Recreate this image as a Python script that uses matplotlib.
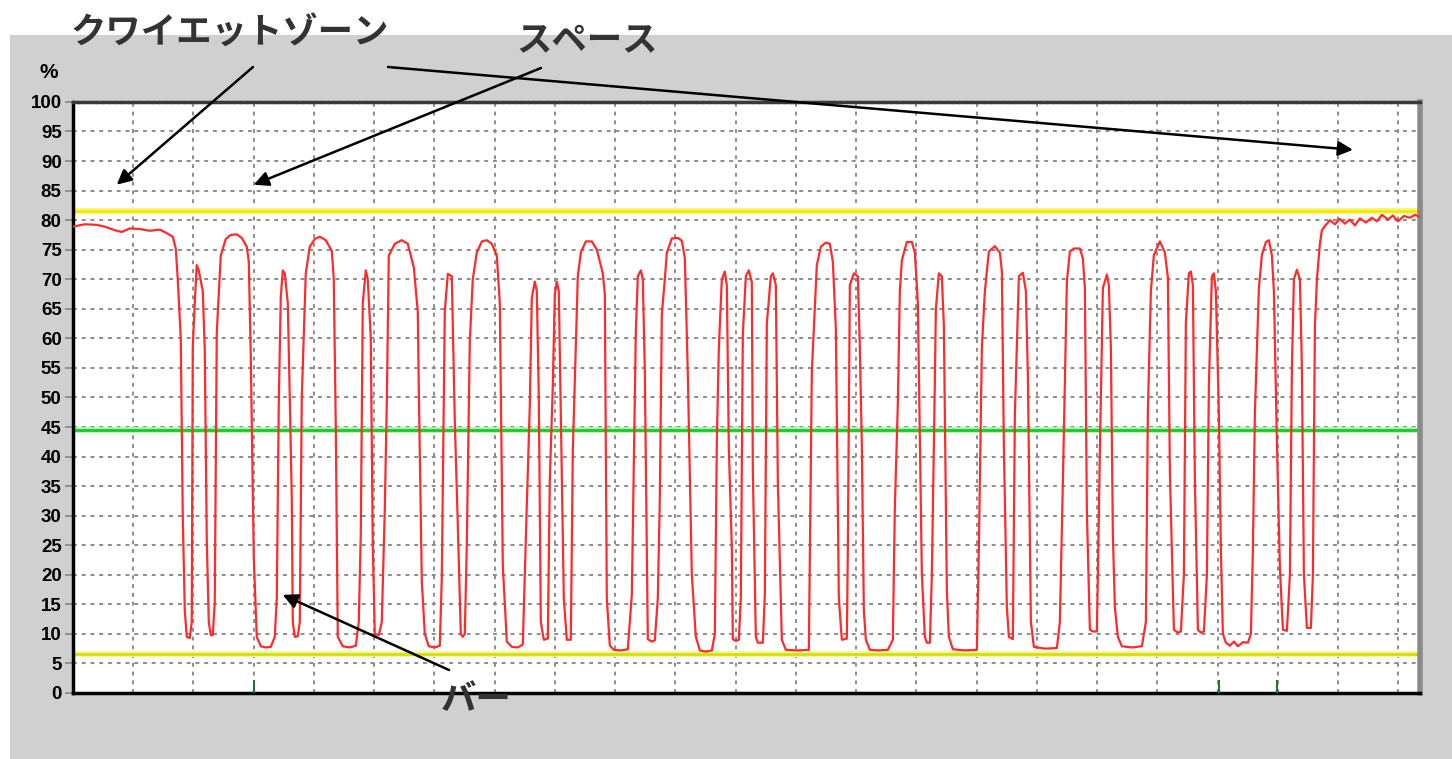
import numpy as np
import matplotlib
matplotlib.use('Agg')
from matplotlib import pyplot as plt
from matplotlib.patches import Rectangle

# scan position (samples) and reflectance (%)
scan_pos = [
    0, 12, 24, 32, 42, 49, 57, 67, 77, 87, 94, 100, 103, 105,
    108, 110, 112, 114, 117, 119, 120, 122, 124, 126,
    130, 132, 134, 136, 138, 140, 142, 144, 148, 153, 158, 164, 169, 174, 176,
    178, 181, 184, 188, 193, 198, 202, 204, 206, 208, 210, 212,
    215, 217, 219, 220, 222, 225, 227, 229, 233, 237, 242, 247, 253, 259,
    261, 263, 265, 270, 277, 283, 286, 288, 290, 293, 295,
    298, 300, 302, 306, 309, 312, 314, 316, 322, 329, 335, 341,
    345, 346, 349, 352, 356, 362, 367, 369, 372, 375, 379,
    382, 385, 388, 390, 392, 394, 397, 400, 404, 409, 414, 419, 424, 427,
    430, 434, 439, 445, 450, 454, 457, 459, 462, 464,
    466, 468, 471, 475, 477, 480, 482, 484, 486,
    488, 491, 494, 498, 500, 505, 508, 513, 519, 524, 530, 532,
    534, 537, 541, 548, 555, 559, 563, 565, 568, 570,
    572, 575, 579, 582, 585, 587, 589, 592, 594, 599, 605, 609, 612, 615,
    619, 623, 627, 633, 639, 642, 644, 646, 649, 652, 654,
    656, 659, 660, 663, 666, 668, 670, 673, 676, 679, 680,
    683, 685, 690, 692, 694, 698, 700, 703,
    705, 709, 713, 725, 736, 739, 744, 748, 753, 757, 760,
    763, 766, 769, 774, 775, 777, 781, 785, 787,
    789, 791, 793, 797, 805, 815, 820, 822, 825, 827, 829, 834, 839, 842,
    845, 849, 852, 854, 857, 859, 862, 863, 866, 869,
    871, 874, 876, 880, 892, 904, 906, 909, 912, 916, 922, 927, 929,
    931, 934, 936, 940, 942, 946, 950, 953,
    955, 958, 961, 972, 984, 987, 990, 994, 997, 1001, 1007, 1010, 1012,
    1014, 1017, 1020, 1024, 1025, 1027, 1030, 1034, 1036,
    1038, 1040, 1042, 1045, 1049, 1059, 1069, 1073, 1075, 1078, 1081, 1087, 1092, 1095,
    1097, 1101, 1105, 1108, 1111, 1113, 1116, 1118, 1120,
    1122, 1125, 1128, 1131, 1134, 1136, 1139, 1141, 1143,
    1146, 1148, 1150, 1153, 1157, 1161, 1165, 1170, 1175, 1178,
    1180, 1182, 1186, 1189, 1193, 1196, 1199, 1201,
    1204, 1207, 1210, 1214, 1217, 1219, 1221, 1224, 1227,
    1229, 1231, 1234, 1238, 1240, 1242, 1244, 1247, 1249,
    1253, 1257, 1262, 1267, 1272, 1277, 1282, 1287, 1293, 1299, 1304, 1309,
    1315, 1320, 1325, 1331, 1337, 1342, 1346,
]
reflectance = [
    78.9, 79.3, 79.2, 78.9, 78.3, 78.0, 78.6, 78.5, 78.2, 78.4, 77.8, 77.2, 75.2, 70.0,
    60, 30, 14, 9.5, 9.3, 12, 58.5, 66, 72.4, 71.5,
    68, 58, 26, 12, 9.8, 9.8, 15.4, 61, 74, 76.8, 77.5, 77.6, 77, 75.5, 73,
    57, 23, 9.5, 7.9, 7.7, 7.8, 9.5, 16, 49, 67, 71.5, 71,
    66, 50, 33, 12, 9.5, 9.6, 12, 50, 71, 75.5, 76.8, 77.2, 76.6, 74.8,
    70, 45, 9.5, 7.9, 7.7, 8, 12, 27, 66, 71.5, 70,
    60, 25, 10, 9.8, 12, 31, 49, 74, 76, 76.6, 76, 72,
    64.5, 51.6, 19, 10, 7.9, 7.7, 8, 19.5, 64.5, 70.9, 70.5,
    46, 28.4, 10, 9.5, 10, 25, 59.5, 70, 74.5, 76.4, 76.6, 76, 74, 66,
    21.6, 8.7, 7.8, 7.7, 8.2, 31.8, 48.7, 66.8, 69.6, 68,
    50, 12, 9, 9.2, 36, 52, 67.4, 69.6, 68,
    47, 16, 9, 9, 41, 70.5, 74.5, 76.4, 76.4, 75, 71, 67.5,
    16, 8, 7.3, 7.2, 7.4, 16.6, 61, 70.5, 71.5, 70,
    54.4, 9.1, 8.7, 8.9, 16, 33, 64, 70, 74.5, 76.9, 77, 76.5, 73.6, 54,
    20, 9.5, 7.2, 7.0, 7.2, 10, 42.5, 58.3, 70, 71.3, 69,
    41.4, 24.5, 9.1, 8.8, 9, 16, 60.6, 70.5, 71.5, 69.5, 37.7,
    9.5, 8.5, 8.5, 16.6, 62.5, 70.5, 71, 69,
    35.7, 9, 7.3, 7.2, 7.3, 54.4, 72.4, 75.5, 76.2, 76, 73,
    61.7, 16, 9, 9.2, 24.5, 69, 71, 70.5, 58.4,
    41.8, 14, 9, 7.3, 7.2, 7.3, 9, 31.4, 49, 68, 73.2, 76.3, 76.3, 74.5,
    66, 20.1, 9.5, 8.5, 8.5, 20, 52.7, 64.9, 71, 70.5,
    62.2, 17.2, 9.5, 7.4, 7.2, 7.3, 24.5, 58.4, 67.9, 74.7, 75.6, 74.5, 71.4,
    41.8, 14.5, 9.5, 9.1, 47.1, 70.5, 71.1, 68,
    53.9, 12.1, 7.8, 7.5, 7.6, 12, 35.7, 69.6, 74.7, 75.2, 75.2, 73.5, 68.5,
    30.7, 10.7, 10.4, 10.4, 20, 40.8, 68.5, 70.8, 69,
    58.4, 26.7, 14.5, 9.5, 7.9, 7.7, 7.9, 12, 47.6, 68, 74.1, 76.4, 74.5, 70.3,
    37.4, 10.7, 10.2, 10.4, 20, 62.7, 71, 71.3, 69,
    36, 10.7, 10.2, 10.4, 20, 52.2, 70.5, 71, 68,
    47, 24, 10, 8.5, 8.0, 8.7, 7.9, 8.6, 8.5, 10,
    24.2, 47.4, 68.5, 74.1, 76.3, 76.6, 74, 68,
    42.5, 21.2, 10.7, 10.5, 20, 55, 70, 71.6, 70,
    55, 20, 11, 11, 20, 62, 70, 76, 78.3,
    79.2, 80, 79.3, 80.2, 79.4, 80.1, 79.1, 80.3, 79.6, 80.4, 79.8, 80.9,
    80.1, 80.8, 79.8, 80.7, 80.4, 80.9, 80.6,
]

upper_limit = 81.5    # yellow
threshold = 44.5      # green
lower_limit = 6.6     # yellow
event_marks = [181, 1146, 1204]

scan_len = 1347
div = 60.25

fig = plt.figure(figsize=(14.52, 7.59), dpi=100)
fig.patches.append(Rectangle((10 / 1452, 0), 1, 1 - 35 / 759, transform=fig.transFigure,
                             facecolor='#cfd0cf', edgecolor='none', zorder=-10))

ax = fig.add_axes([0.0501, 0.0870, 0.9278, 0.7787])
ax.set_facecolor('white')
ax.set_xlim(0, scan_len)
ax.set_ylim(0, 100)

grid_kw = dict(color='#8c8c8c', lw=1.4, ls=(0, (2, 2.5)), zorder=1)
for yv in range(5, 100, 5):
    ax.axhline(yv, **grid_kw)
for k in range(1, 23):
    ax.axvline(k * div, **grid_kw)

ax.axhline(upper_limit, color='#fff48a', lw=4.5, zorder=2)
ax.axhline(upper_limit, color='#f2ea00', lw=2.0, zorder=2)
ax.axhline(lower_limit, color='#f4f6a8', lw=4.5, zorder=2)
ax.axhline(lower_limit, color='#d6df00', lw=2.0, zorder=2)
ax.axhline(threshold, color='#b6f0a8', lw=4.2, zorder=2)
ax.axhline(threshold, color='#10cc30', lw=2.0, zorder=2)

ax.plot(scan_pos, reflectance, color='#ff2a2a', lw=1.6, zorder=4)

ax.vlines(event_marks, 0, 2.2, color='#2e6e30', lw=1.5, zorder=3)

ax.set_xticks([])
ax.set_yticks(range(0, 101, 5))
ax.set_yticklabels([str(v) for v in range(0, 101, 5)],
                   fontfamily='Liberation Sans', fontweight='bold', fontsize=13.5)
ax.tick_params(axis='y', length=6, width=1.3, color='#8c8c8c', pad=2)

ax.spines['left'].set_linewidth(2.5)
ax.spines['left'].set_color('black')
ax.spines['bottom'].set_linewidth(2.5)
ax.spines['bottom'].set_color('black')
ax.spines['top'].set_linewidth(2.5)
ax.spines['top'].set_color('#3a3a3a')
ax.spines['top'].set_linestyle((0, (1, 0.8)))
ax.spines['right'].set_linewidth(4)
ax.spines['right'].set_color('#8a8a8a')

fig.text(49 / 1452, 1 - 72 / 759, '%', ha='center', va='center',
         fontfamily='Liberation Sans', fontweight='bold', fontsize=15)

jp = dict(fontfamily=['Noto Sans CJK JP', 'DejaVu Sans'], color='#333333',
          fontsize=25.5, fontweight='bold')
fig.text(71 / 1452, 1 - 33 / 759, 'クワイエットゾーン', ha='left', va='center', **jp)
fig.text(516 / 1452, 1 - 41 / 759, 'スペース', ha='left', va='center', **jp)
fig.text(441 / 1452, 1 - 700 / 759, 'バー', ha='left', va='center', **jp)

arrow_kw = dict(arrowstyle='-|>', color='black', lw=1.8, mutation_scale=22,
                shrinkA=0, shrinkB=0)
arrows = [
    ((44, 86.0), (253 / 1452, 1 - 67 / 759)),
    ((1280, 91.9), (388 / 1452, 1 - 67 / 759)),
    ((181, 86.0), (541 / 1452, 1 - 68 / 759)),
    ((210, 16.6), (449 / 1452, 1 - 670 / 759)),
]
for tip, start in arrows:
    ax.annotate('', xy=tip, xycoords='data', xytext=start, textcoords='figure fraction',
                arrowprops=arrow_kw, annotation_clip=False, zorder=6)

fig.savefig('out.png', dpi=100)
